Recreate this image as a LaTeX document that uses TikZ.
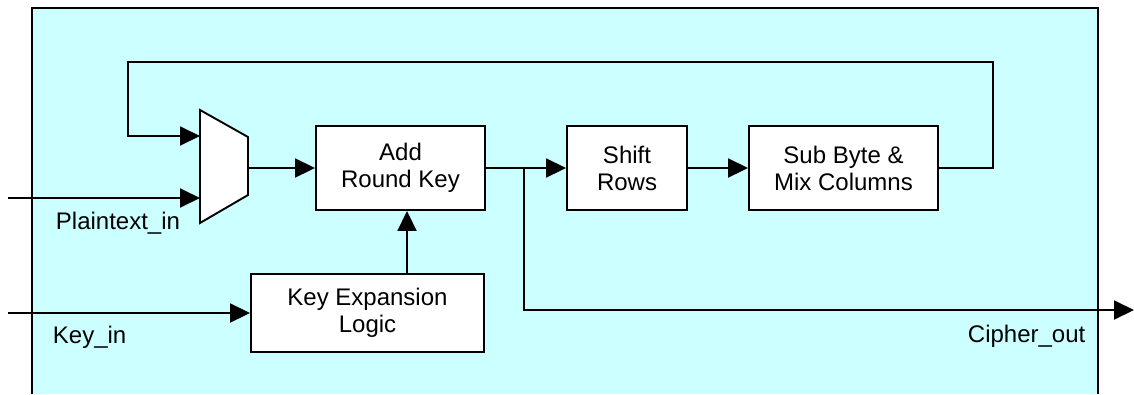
\documentclass[tikz,border=0pt]{standalone}
\usepackage{fontspec}
\setmainfont{Liberation Sans}
\usetikzlibrary{arrows.meta}
\definecolor{bgcyan}{RGB}{204,255,255}
\begin{document}
\begin{tikzpicture}[x=1pt,y=-1pt,
  font=\fontsize{24}{27}\selectfont,
  line width=1.9pt, line join=miter,
  blk/.style={draw, fill=white, align=center, inner sep=0pt},
  arr/.style={-{Triangle[length=20pt,width=19pt]}},
  lbl/.style={inner sep=0pt, anchor=base west}]
\useasboundingbox (0,0) rectangle (1134,394);
% enclosing region
\fill[bgcyan] (32,8) rectangle (1098,394);
\draw[line width=1.7pt] (32,394) -- (32,8) -- (1098,8) -- (1098,394);
% blocks
\node[blk, minimum width=169pt, minimum height=84pt] (ark) at (400.5,168) {Add\\Round Key};
\node[blk, minimum width=120pt, minimum height=84pt] (shift) at (627,168) {Shift\\Rows};
\node[blk, minimum width=189pt, minimum height=84pt] (sub) at (843.5,168) {Sub Byte \&\\Mix Columns};
\node[blk, minimum width=233pt, minimum height=78pt] (kexp) at (367.5,313) {Key Expansion\\Logic};
% multiplexer
\draw[fill=white] (200,110) -- (248,137) -- (248,195) -- (200,223) -- cycle;
\coordinate (muxA) at (200,136);
\coordinate (muxB) at (200,198);
\coordinate (muxO) at (248,168);
% corner and end points
\coordinate (ptin) at (8,198);
\coordinate (kin) at (8,313);
\coordinate (fbR) at (993,168);
\coordinate (fbRT) at (993,62);
\coordinate (fbLT) at (128,62);
\coordinate (fbL) at (128,136);
\coordinate (jn) at (524,168);
\coordinate (jnD) at (524,310);
\coordinate (cout) at (1134,310);
\coordinate (kup) at (407,274);
% connectors
\draw[arr] (ptin) -- (muxB);
\draw[arr] (muxO) -- (ark.west);
\draw (ark.east) -- (jn);
\draw[arr] (jn) -- (shift.west);
\draw[arr] (shift.east) -- (sub.west);
\draw[arr] (sub.east) -- (fbR) -- (fbRT) -- (fbLT) -- (fbL) -- (muxA);
\draw[arr] (jn) -- (jnD) -- (cout);
\draw[arr] (kin) -- (kexp.west);
\draw[arr] (kup) -- (kup |- ark.south);
% labels
\node[lbl] (lpt) at (55,229) {Plaintext\_in};
\node[lbl] (lkey) at (52,343) {Key\_in};
\node[lbl] (lout) at (967,342) {Cipher\_out};
\end{tikzpicture}
\end{document}
